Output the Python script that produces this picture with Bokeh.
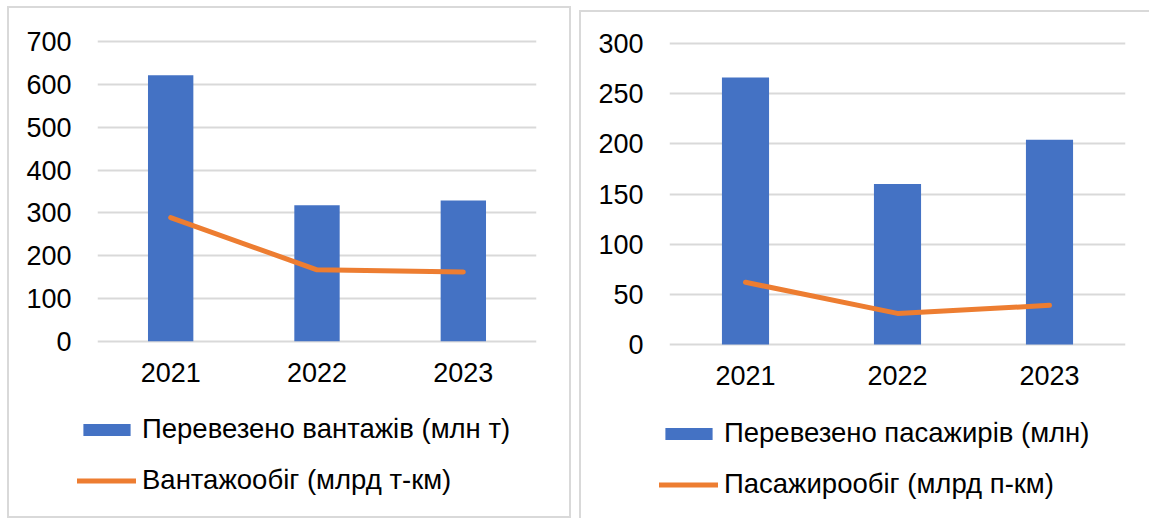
from bokeh.plotting import figure
from bokeh.models import (FactorRange, Range1d, FixedTicker, Legend, LegendItem,
                          ColumnDataSource)
from bokeh.layouts import row, column
from bokeh.embed import file_html
from bokeh.resources import INLINE

years = ["2021", "2022", "2023"]

freight_volume = [621, 318, 329]        # Перевезено вантажів (млн т)
freight_turnover = [289, 167, 162]      # Вантажообіг (млрд т-км)
freight_ticks = [0, 100, 200, 300, 400, 500, 600, 700]

pass_volume = [266, 160, 204]           # Перевезено пасажирів (млн)
pass_turnover = [62, 31, 39]            # Пасажирообіг (млрд п-км)
pass_ticks = [0, 50, 100, 150, 200, 250, 300]

label_freight_bar = "Перевезено вантажів (млн т)"
label_freight_line = "Вантажообіг (млрд т-км)"
label_pass_bar = "Перевезено пасажирів (млн)"
label_pass_line = "Пасажирообіг (млрд п-км)"

BLUE = "#4472C4"
ORANGE = "#ED7D31"
GRID = "#d9d9d9"
FONT = "Liberation Sans"
TXT = "#000000"


def add_series(p, bars, line):
    src = ColumnDataSource(dict(x=years, bar=bars, line=line))
    r_bar = p.vbar(x="x", top="bar", bottom=0, width=0.31, source=src,
                   fill_color=BLUE, line_color=None)
    r_line = p.line(x="x", y="line", source=src, line_color=ORANGE, line_width=5,
                    line_cap="round", line_join="round")
    return r_bar, r_line


def make_chart(width, height, mb_left, mb_right, mb_top, mb_bottom, y0, y1, ticks,
               bars, line):
    p = figure(x_range=FactorRange(factors=years, range_padding=0),
               y_range=Range1d(y0, y1),
               width=width, height=height,
               min_border_left=mb_left, min_border_right=mb_right,
               min_border_top=mb_top, min_border_bottom=mb_bottom,
               output_backend="svg", toolbar_location=None,
               border_fill_color=None, background_fill_color=None,
               outline_line_color=None)
    add_series(p, bars, line)

    p.yaxis.ticker = FixedTicker(ticks=ticks)
    p.xgrid.grid_line_color = None
    p.ygrid.grid_line_color = GRID
    p.ygrid.grid_line_width = 2
    p.ygrid.level = "underlay"

    for ax in (p.xaxis, p.yaxis):
        ax.axis_line_color = None
        ax.major_tick_line_color = None
        ax.minor_tick_line_color = None
        ax.major_tick_in = 0
        ax.major_tick_out = 0
        ax.major_label_text_font = FONT
        ax.major_label_text_font_size = "27px"
        ax.major_label_text_color = TXT
    p.yaxis.major_label_standoff = 26
    p.xaxis.major_label_standoff = 19
    return p


def make_legend(width, height, bars, line, lab_bar, lab_line, loc):
    # legend panel: the same series as hidden renderers, only their legend is shown
    q = figure(x_range=FactorRange(factors=years, range_padding=0),
               y_range=Range1d(0, 1000),
               width=width, height=height,
               x_axis_location=None, y_axis_location=None,
               min_border_left=0, min_border_right=0,
               min_border_top=0, min_border_bottom=0,
               output_backend="svg", toolbar_location=None,
               border_fill_color=None, background_fill_color=None,
               outline_line_color=None)
    q.grid.visible = False
    r_bar, r_line = add_series(q, bars, line)
    r_bar.visible = False
    r_line.visible = False
    legend = Legend(items=[LegendItem(label=lab_bar, renderers=[r_bar]),
                           LegendItem(label=lab_line, renderers=[r_line])],
                    location=loc, orientation="vertical",
                    padding=0, margin=0, spacing=19,
                    border_line_color=None, background_fill_color=None,
                    background_fill_alpha=0, inactive_fill_alpha=0,
                    glyph_width=59, glyph_height=15, label_height=30,
                    label_standoff=6,
                    label_text_font=FONT, label_text_font_size="27.5px",
                    label_text_color=TXT)
    q.add_layout(legend)
    return q


c1 = make_chart(564, 390, 90, 35, 32, 53, -5, 707, freight_ticks,
                freight_volume, freight_turnover)
l1 = make_legend(564, 122, freight_volume, freight_turnover,
                 label_freight_bar, label_freight_line, (70, 22))
col1 = column(c1, row(l1), spacing=0, margin=(6, 0, 0, 7),
              styles={"box-shadow": "inset 0 0 0 2px " + GRID})

c2 = make_chart(570, 386, 90, 24, 30, 50, -2, 303, pass_ticks,
                pass_volume, pass_turnover)
l2 = make_legend(570, 122, pass_volume, pass_turnover,
                 label_pass_bar, label_pass_line, (80, 18))
col2 = column(c2, row(l2), spacing=0, margin=(10, 0, 0, 8),
              styles={"box-shadow": "inset 2px 2px 0 0 " + GRID})

layout = row(col1, col2, spacing=0)
open("out.html", "w").write(file_html(layout, INLINE))
